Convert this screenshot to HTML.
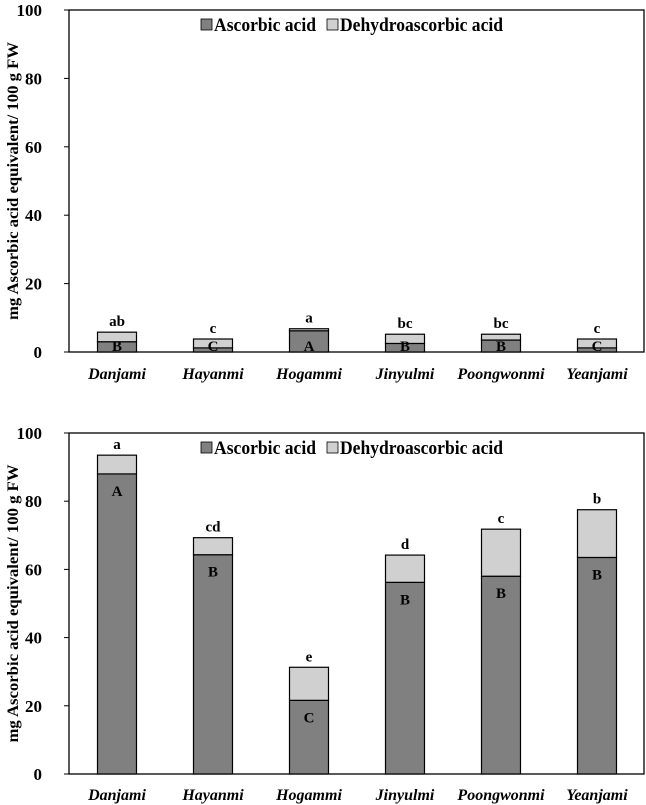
<!DOCTYPE html>
<html><head><meta charset="utf-8"><style>
body{margin:0;background:#fff;}
svg{display:block;font-family:"Liberation Serif",serif;font-weight:bold;}
</style></head><body>
<svg id="c" width="646" height="805"></svg>
<script>
const categories=["Danjami","Hayanmi","Hogammi","Jinyulmi","Poongwonmi","Yeanjami"];
const topAscorbic=[3.0,1.2,6.2,2.5,3.5,1.2];
const topTotal=[5.8,3.8,6.8,5.2,5.2,3.8];
const topTotalLetters=["ab","c","a","bc","bc","c"];
const topAALetters=["B","C","A","B","B","C"];
const botAscorbic=[88,64.3,21.6,56.2,58,63.5];
const botTotal=[93.5,69.3,31.3,64.2,71.8,77.5];
const botTotalLetters=["a","cd","e","d","c","b"];
const botAALetters=["A","B","C","B","B","B"];
const yTicks=[0,20,40,60,80,100];

const svg=document.getElementById('c');
const NS="http://www.w3.org/2000/svg";
function mk(t,a,p){const e=document.createElementNS(NS,t);for(const k in a)e.setAttribute(k,a[k]);(p||svg).appendChild(e);return e;}

function panel(name,top,bottom,aa,tot,tl,al,labelY){
  const g=mk('g',{});
  
  
  const L=69,R=645;
  const y=v=>bottom-(v/100)*(bottom-top);
  const band=(R-L)/categories.length;
  const x=i=>L+band*(i+0.5);
  const bw=39;
  const fr=mk('rect',{x:L,y:top,width:R-L-1,height:bottom-top,fill:'none',stroke:'#000','stroke-width':1.3},g);
  
  
  yTicks.forEach(t=>{
    const tk=mk('line',{x1:L-5,x2:L,y1:y(t),y2:y(t),stroke:'#000','stroke-width':1},g);
    
    
    const tx=mk('text',{x:L-27,y:y(t)+6,'text-anchor':'end','font-size':17},g);
    tx.textContent=t;
    
    
  });
  const yt=mk('text',{x:0,y:0,'text-anchor':'middle','font-size':16,textLength:278,lengthAdjust:'spacingAndGlyphs',transform:`translate(18,${(top+bottom)/2}) rotate(-90)`},g);
  yt.textContent="mg Ascorbic acid equivalent/ 100 g FW";
  
  
  categories.forEach((c,i)=>{
    const cx=x(i);
    const b1=mk('rect',{x:cx-bw/2,y:y(aa[i]),width:bw,height:y(0)-y(aa[i]),fill:'#808080',stroke:'#000','stroke-width':1.2},g);
    
    
    const b2=mk('rect',{x:cx-bw/2,y:y(tot[i]),width:bw,height:y(aa[i])-y(tot[i]),fill:'#d0d0d0',stroke:'#000','stroke-width':1.2},g);
    
    
    const t1=mk('text',{x:cx,y:y(tot[i])-6,'text-anchor':'middle','font-size':15},g);
    t1.textContent=tl[i];
    
    
    const ay=aa[i]>15?y(aa[i])+22:y(0)-1;
    const t2=mk('text',{x:cx,y:ay,'text-anchor':'middle','font-size':15},g);
    t2.textContent=al[i];
    
    
    const xl=mk('text',{x:cx,y:labelY,'text-anchor':'middle','font-size':16,'font-style':'italic'},g);
    xl.textContent=c;
    
    
  });
  const lg=mk('g',{},g);
  
  
  const ly=top+15;
  mk('rect',{x:201,y:ly-6,width:11,height:11,fill:'#808080',stroke:'#000','stroke-width':0.8},lg);
  const l1=mk('text',{x:214,y:ly+6,'font-size':19,textLength:102,lengthAdjust:'spacingAndGlyphs'},lg);l1.textContent="Ascorbic acid";
  
  
  mk('rect',{x:327,y:ly-6,width:11,height:11,fill:'#d0d0d0',stroke:'#000','stroke-width':0.8},lg);
  const l2=mk('text',{x:340,y:ly+6,'font-size':19,textLength:163,lengthAdjust:'spacingAndGlyphs'},lg);l2.textContent="Dehydroascorbic acid";
  
  
}
panel('top-chart',10,352,topAscorbic,topTotal,topTotalLetters,topAALetters,379);
panel('bottom-chart',433,774,botAscorbic,botTotal,botTotalLetters,botAALetters,800);
</script>
</body></html>
